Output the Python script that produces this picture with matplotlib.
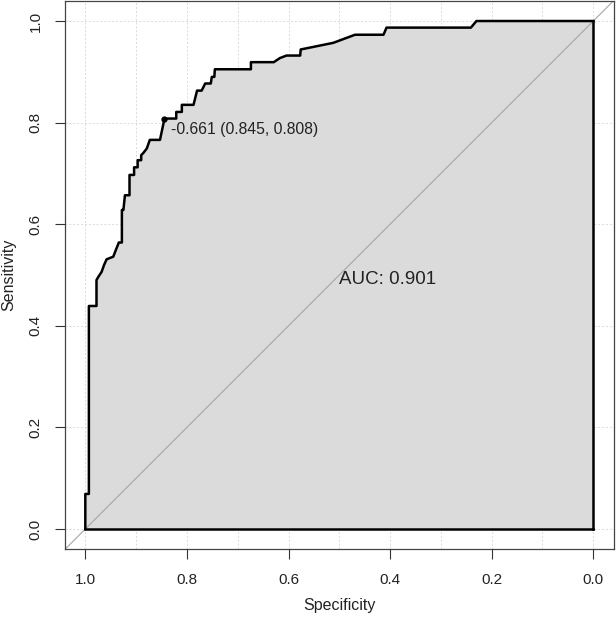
import matplotlib
matplotlib.use("Agg")
import matplotlib.pyplot as plt
import numpy as np

plt.rcParams["font.family"] = ["Liberation Sans", "DejaVu Sans"]

# ROC curve path (specificity, sensitivity)
specificity = [1.000, 1.000, 0.993, 0.993, 0.978, 0.978, 0.974, 0.968, 0.963, 0.958,
               0.945, 0.940, 0.934, 0.928, 0.928, 0.925, 0.922, 0.913, 0.913, 0.904,
               0.904, 0.897, 0.897, 0.890, 0.890, 0.886, 0.879, 0.873, 0.853, 0.846,
               0.845, 0.821, 0.821, 0.810, 0.810, 0.787, 0.780, 0.771, 0.764, 0.753,
               0.751, 0.746, 0.745, 0.674, 0.674, 0.629, 0.617, 0.604, 0.577, 0.576,
               0.512, 0.469, 0.413, 0.407, 0.241, 0.230, 0.000]
sensitivity = [0.000, 0.069, 0.069, 0.439, 0.439, 0.490, 0.497, 0.506, 0.520, 0.531,
               0.536, 0.549, 0.564, 0.564, 0.628, 0.628, 0.657, 0.657, 0.697, 0.697,
               0.712, 0.712, 0.726, 0.726, 0.736, 0.740, 0.749, 0.766, 0.766, 0.799,
               0.808, 0.808, 0.821, 0.821, 0.835, 0.835, 0.863, 0.863, 0.877, 0.877,
               0.890, 0.890, 0.905, 0.905, 0.919, 0.919, 0.927, 0.932, 0.932, 0.944,
               0.957, 0.973, 0.973, 0.987, 0.987, 1.000, 1.000]

best_threshold = -0.661
best_spec = 0.845
best_sens = 0.808
auc_value = 0.901

x_ticks = [1.0, 0.8, 0.6, 0.4, 0.2, 0.0]
y_ticks = [0.0, 0.2, 0.4, 0.6, 0.8, 1.0]

fig = plt.figure(figsize=(6.16, 6.18), dpi=100)
ax = fig.add_axes([65 / 616, 1 - 549.3 / 618, 548.6 / 616, 548.6 / 618])

# grid: 0.1 on specificity, 0.2 on sensitivity
for g in np.arange(0, 1.01, 0.1):
    ax.axvline(g, color="#dadada", lw=0.7, ls=(0, (2, 2)), zorder=0)
for g in np.arange(0, 1.01, 0.2):
    ax.axhline(g, color="#dadada", lw=0.7, ls=(0, (2, 2)), zorder=0)

ax.fill_between(specificity, 0, sensitivity, color="#dbdbdb", lw=0, zorder=1)
ax.axline((1, 0), (0, 1), color="#a6a6a6", lw=0.8, zorder=2)
ax.plot(specificity, sensitivity, color="black", lw=1.8, zorder=3)
ax.plot([0, 0], [0, 1], color="black", lw=1.8, zorder=3)
ax.plot([1, 0], [0, 0], color="black", lw=1.8, zorder=3)

ax.plot([best_spec], [best_sens], "o", color="black", ms=3.5, zorder=4)
ax.annotate(f"{best_threshold:.3f} ({best_spec:.3f}, {best_sens:.3f})",
            (best_spec, best_sens), xytext=(5, -8), textcoords="offset points",
            ha="left", va="center", fontsize=11.3, color="#222222")
ax.text(0.5, 0.508, f"AUC: {auc_value:.3f}", ha="left", va="top",
        fontsize=13.5, color="#222222")

ax.set_xlim(1.04, -0.04)
ax.set_ylim(-0.04, 1.04)
ax.set_xticks(x_ticks)
ax.set_yticks(y_ticks)
ax.set_xticklabels([f"{t:.1f}" for t in x_ticks])
ax.set_yticklabels([f"{t:.1f}" for t in y_ticks], rotation=90, va="center")
ax.tick_params(direction="out", length=7, width=0.8, color="#333333",
               labelsize=11, labelcolor="#222222", pad=9)
ax.tick_params(axis="x", pad=10)

for s in ax.spines.values():
    s.set_color("#444444")
    s.set_linewidth(0.9)

ax.set_xlabel("Specificity", fontsize=11.5, color="#222222")
ax.set_ylabel("Sensitivity", fontsize=11.5, color="#222222")
ax.xaxis.set_label_coords(0.5, (549.3 - 598) / 548.6)
ax.yaxis.set_label_coords((16 - 65) / 548.6, 0.5)

fig.savefig("out.png", dpi=100)
